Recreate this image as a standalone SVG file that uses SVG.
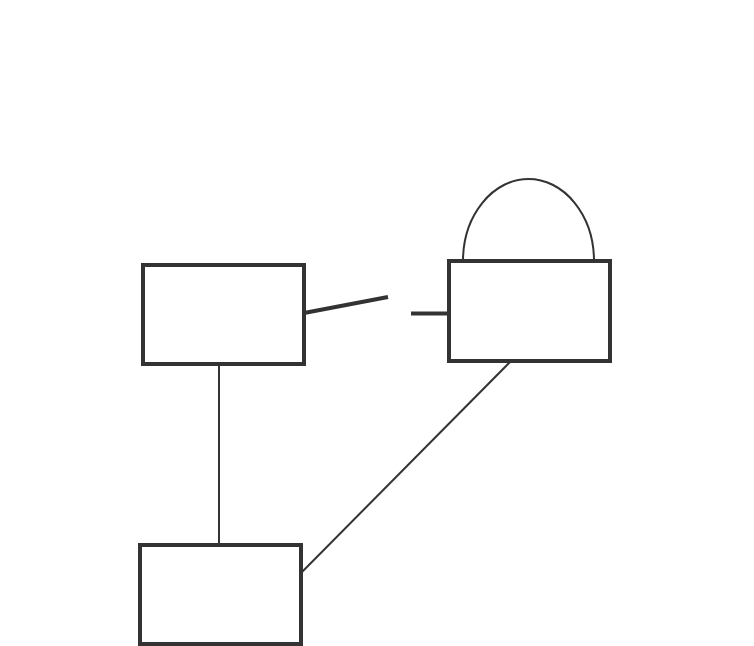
<svg xmlns="http://www.w3.org/2000/svg" width="754" height="646" viewBox="0 0 754 646">
<style>
.node{fill:#ffffff;stroke:#333333;stroke-width:4}
.thin{fill:none;stroke:#333333;stroke-width:2}
.thick{fill:none;stroke:#333333;stroke-width:4}
</style>
<rect width="754" height="646" fill="#ffffff"/>
<g id="connectors">
<line class="thin" x1="219" y1="364" x2="219" y2="545"/>
<line class="thin" x1="511" y1="361" x2="301" y2="573"/>
<line class="thick" x1="304" y1="313" x2="388" y2="297"/>
<line class="thick" x1="411" y1="313.5" x2="449" y2="313.5"/>
<path class="thin" d="M463 261 A65.5 82 0 0 1 594 261"/>
</g>
<g id="node-a"><rect class="node" x="143" y="265" width="161" height="99"/></g>
<g id="node-b"><rect class="node" x="449" y="261" width="161" height="100"/></g>
<g id="node-c"><rect class="node" x="140" y="545" width="161" height="99"/></g>
</svg>
